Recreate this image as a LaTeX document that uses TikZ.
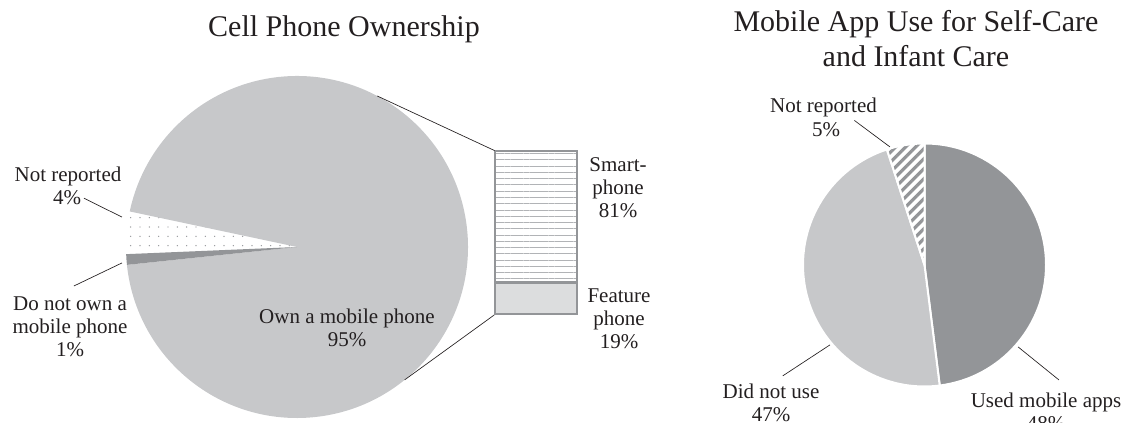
\documentclass[tikz,border=0pt]{standalone}
\usepackage{fontspec}
\setmainfont{Liberation Serif}
\usepackage{xcolor}
\usetikzlibrary{patterns.meta}

\definecolor{pielight}{HTML}{C7C8CA}
\definecolor{piedark}{HTML}{939598}
\definecolor{barlight}{HTML}{DCDDDE}
\definecolor{stripegray}{HTML}{B1B3B6}
\definecolor{ink}{HTML}{231F20}

\tikzset{
  lbl/.style={font=\fontsize{15.75}{17.6}\selectfont, text=ink, align=center, inner sep=2pt},
  ttl/.style={font=\fontsize{22.5}{26.25}\selectfont, text=ink, align=center, inner sep=0pt},
  leader/.style={draw=ink, line width=0.5pt},
  barpart/.style={draw=piedark, line width=1.2pt, minimum width=61.5pt, inner sep=0pt},
  slice/.style={draw=white, line width=1.5pt},
}

\begin{document}
\begin{tikzpicture}[x=0.75pt,y=0.75pt]
  \useasboundingbox (0,0) rectangle (1122,423);

  % titles (base = last line)
  \node[ttl, anchor=base] (ownTitle) at (344,386) {Cell Phone Ownership};
  \node[ttl, anchor=base] (appTitle) at (916,356) {Mobile App Use for Self-Care\\and Infant Care};

  % ownership pie
  \begin{scope}[shift={(297,176)}]
    \fill[pielight] (0,0) -- (186:171) arc[start angle=186, end angle=528, radius=171] -- cycle;
    \fill[piedark] (0,0) -- (182.4:171) arc[start angle=182.4, end angle=186, radius=171] -- cycle;
    \fill[pattern={Dots[distance=7pt, radius=0.55pt]}, pattern color=piedark]
      (0,0) -- (168:171) arc[start angle=168, end angle=182.4, radius=171] -- cycle;
    \coordinate (barTopJoin) at (62:171);
    \coordinate (barBotJoin) at (-51:171);
    \coordinate (nrTipL) at (170.3:177.6);
    \coordinate (dnoTip) at (185.2:175.7);
  \end{scope}

  % phone type bar
  \node[barpart, pattern={Lines[angle=0, distance=4.7pt, line width=0.6pt]}, pattern color=stripegray,
        minimum height=98.25pt] (smart) at (536,206.5) {};
  \node[barpart, fill=barlight, minimum height=23.25pt, anchor=north] (feature) at (smart.south) {};
  \draw[leader] (barTopJoin) -- (smart.north west);
  \draw[leader] (barBotJoin) -- (feature.south west);

  \node[lbl, anchor=base] (smartLabel) at (618,205) {Smart-\\phone\\81\%};
  \node[lbl, anchor=base] (featureLabel) at (619,74) {Feature\\phone\\19\%};
  \node[lbl, anchor=base] (ownLabel) at (347,76) {Own a mobile phone\\95\%};
  \node[lbl, anchor=base] (nrNameL) at (68,241) {Not reported};
  \node[lbl, anchor=base] (nrPctL) at (67,218) {4\%};
  \node[lbl, anchor=base] (dnoLabel) at (70,66) {Do not own a\\mobile phone\\1\%};
  \draw[leader] (nrPctL.east) -- (nrTipL);
  \draw[leader, shorten <=12.8pt] (dnoLabel.109) -- (dnoTip);

  % app use pie
  \begin{scope}[shift={(924.5,158)}]
    \filldraw[slice, fill=piedark] (0,0) -- (90:121.5) arc[start angle=90, end angle=-82.8, radius=121.5] -- cycle;
    \filldraw[slice, fill=pielight] (0,0) -- (-82.8:121.5) arc[start angle=-82.8, end angle=-252, radius=121.5] -- cycle;
    \filldraw[slice, pattern={Lines[angle=45, distance=5.3pt, line width=2.4pt]}, pattern color=piedark]
      (0,0) -- (108:121.5) arc[start angle=108, end angle=90, radius=121.5] -- cycle;
    \coordinate (nrTipR) at (106.3:123);
    \coordinate (didTip) at (220.2:123.8);
    \coordinate (usedTip) at (-41.2:124.4);
  \end{scope}

  \node[lbl, anchor=base] (nrNameR) at (823.5,310) {Not reported};
  \node[lbl, anchor=base] (nrPctR) at (826,286) {5\%};
  \node[lbl, anchor=base] (usedLabel) at (1046,-8) {Used mobile apps\\48\%};
  \node[lbl, anchor=base] (didLabel) at (771,1) {Did not use\\47\%};
  \draw[leader] (nrNameR.-22) -- (nrTipR);
  \draw[leader, shorten <=7pt] (didLabel.80) -- (didTip);
  \draw[leader, shorten <=12pt] (usedLabel.41) -- (usedTip);
\end{tikzpicture}
\end{document}
